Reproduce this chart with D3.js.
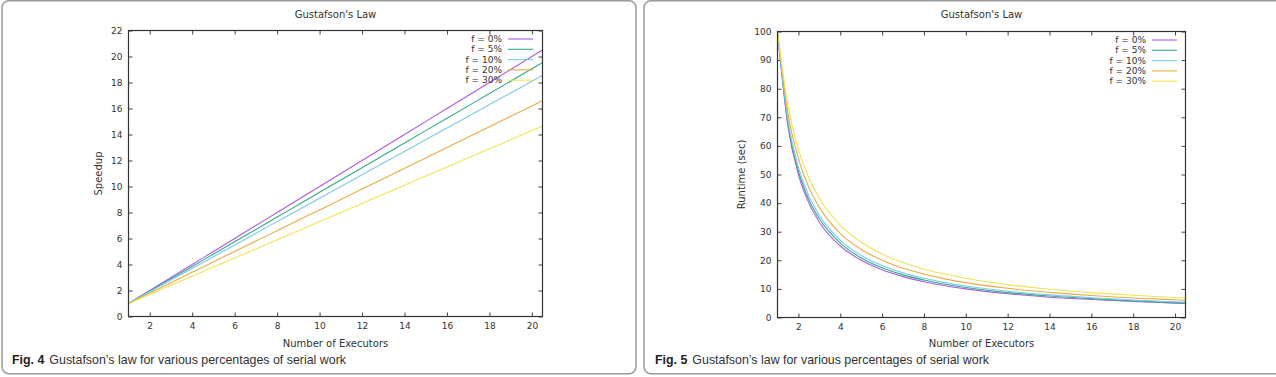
<!DOCTYPE html>
<html>
<head>
<meta charset="utf-8">
<script src="https://cdn.jsdelivr.net/npm/d3@7"></script>
<style>
  body { margin: 0; background: #fff; }
  svg { display: block; }
  .tick text { font-family: "DejaVu Sans", sans-serif; font-size: 9px; fill: #333; }
</style>
</head>
<body>
<svg width="1276" height="377"></svg>
<script>
// number of executors (x) sampled along the curves
var executors = [1, 1.5, 2, 2.5, 3, 4, 5, 6, 7, 8, 9, 10, 12, 14, 16, 18, 20, 20.5];
var seriesLabels = ['f = 0%', 'f = 5%', 'f = 10%', 'f = 20%', 'f = 30%'];
var seriesColors = ['#b05ae6', '#34ad85', '#7fcaf0', '#eeaa45', '#f3e255'];

// Fig. 4 - speedup
var speedupF0  = [1, 1.5, 2, 2.5, 3, 4, 5, 6, 7, 8, 9, 10, 12, 14, 16, 18, 20, 20.5];
var speedupF5  = [1, 1.48, 1.95, 2.43, 2.9, 3.85, 4.8, 5.75, 6.7, 7.65, 8.6, 9.55, 11.45, 13.35, 15.25, 17.15, 19.05, 19.53];
var speedupF10 = [1, 1.45, 1.9, 2.35, 2.8, 3.7, 4.6, 5.5, 6.4, 7.3, 8.2, 9.1, 10.9, 12.7, 14.5, 16.3, 18.1, 18.55];
var speedupF20 = [1, 1.4, 1.8, 2.2, 2.6, 3.4, 4.2, 5.0, 5.8, 6.6, 7.4, 8.2, 9.8, 11.4, 13.0, 14.6, 16.2, 16.6];
var speedupF30 = [1, 1.35, 1.7, 2.05, 2.4, 3.1, 3.8, 4.5, 5.2, 5.9, 6.6, 7.3, 8.7, 10.1, 11.5, 12.9, 14.3, 14.65];

// Fig. 5 - runtime (sec)
var runtimeF0  = [100, 66.7, 50, 40, 33.3, 25, 20, 16.7, 14.3, 12.5, 11.1, 10, 8.3, 7.1, 6.3, 5.6, 5.0, 4.9];
var runtimeF5  = [100, 67.8, 51.3, 41.2, 34.5, 26.0, 20.8, 17.4, 14.9, 13.1, 11.6, 10.5, 8.7, 7.5, 6.6, 5.8, 5.2, 5.1];
var runtimeF10 = [100, 69.0, 52.6, 42.6, 35.7, 27.0, 21.7, 18.2, 15.6, 13.7, 12.2, 11.0, 9.2, 7.9, 6.9, 6.1, 5.5, 5.4];
var runtimeF20 = [100, 71.4, 55.6, 45.5, 38.5, 29.4, 23.8, 20.0, 17.2, 15.2, 13.5, 12.2, 10.2, 8.8, 7.7, 6.8, 6.2, 6.0];
var runtimeF30 = [100, 74.1, 58.8, 48.8, 41.7, 32.3, 26.3, 22.2, 19.2, 16.9, 15.2, 13.7, 11.5, 9.9, 8.7, 7.8, 7.0, 6.8];

var xTicks = [2, 4, 6, 8, 10, 12, 14, 16, 18, 20];
var speedupTicks = [0, 2, 4, 6, 8, 10, 12, 14, 16, 18, 20, 22];
var runtimeTicks = [0, 10, 20, 30, 40, 50, 60, 70, 80, 90, 100];

var svg = d3.select('svg');

function drawPanel(opts) {
    var g = svg.append('g');

    // rounded frame of the figure
    g.append('rect')
        .attr('x', opts.frame[0]).attr('y', opts.frame[1])
        .attr('width', opts.frame[2]).attr('height', opts.frame[3])
        .attr('rx', 7).attr('ry', 7)
        .attr('fill', 'none').attr('stroke', '#9a9a9a').attr('stroke-width', 1.5);

    var m = opts.plot; // left, top, right, bottom
    var x = d3.scaleLinear().domain([1, 20.5]).range([m.left, m.right]);
    var y = d3.scaleLinear().domain(opts.yDomain).range([m.bottom, m.top]);

    g.append('g')
        .attr('transform', 'translate(0,' + m.bottom + ')')
        .call(d3.axisBottom(x).tickValues(xTicks).tickSizeInner(-4).tickSizeOuter(0).tickPadding(6))
        .call(function (a) { a.select('.domain').remove(); });
    g.append('g')
        .attr('transform', 'translate(0,' + m.top + ')')
        .call(d3.axisTop(x).tickValues(xTicks).tickSizeInner(-4).tickSizeOuter(0).tickFormat(''))
        .call(function (a) { a.select('.domain').remove(); });
    g.append('g')
        .attr('transform', 'translate(' + m.left + ',0)')
        .call(d3.axisLeft(y).tickValues(opts.yTicks).tickSizeInner(-4).tickSizeOuter(0).tickPadding(6))
        .call(function (a) { a.select('.domain').remove(); });
    g.append('g')
        .attr('transform', 'translate(' + m.right + ',0)')
        .call(d3.axisRight(y).tickValues(opts.yTicks).tickSizeInner(-4).tickSizeOuter(0).tickFormat(''))
        .call(function (a) { a.select('.domain').remove(); });
    g.selectAll('.tick line').attr('stroke', '#444');

    var line = d3.line()
        .x(function (d) { return x(d[0]); })
        .y(function (d) { return y(d[1]); })
        .curve(d3.curveMonotoneX);

    opts.series.forEach(function (vals, i) {
        g.append('path')
            .datum(executors.map(function (e, j) { return [e, vals[j]]; }))
            .attr('d', line)
            .attr('fill', 'none')
            .attr('stroke', seriesColors[i])
            .attr('stroke-width', 1.1);
    });

    g.append('rect')
        .attr('x', m.left).attr('y', m.top)
        .attr('width', m.right - m.left).attr('height', m.bottom - m.top)
        .attr('fill', 'none').attr('stroke', '#333').attr('stroke-width', 1.2);

    // legend
    var leg = g.append('g');
    seriesLabels.forEach(function (lab, i) {
        var ly = opts.legendY + i * 10.3;
        leg.append('text')
            .attr('x', opts.legendX).attr('y', ly + 3)
            .attr('text-anchor', 'end')
            .style('font-family', '"DejaVu Sans", sans-serif').style('font-size', '9px')
            .attr('fill', '#333')
            .text(lab);
        leg.append('line')
            .attr('x1', opts.legendX + 6).attr('x2', opts.legendX + 31)
            .attr('y1', ly).attr('y2', ly)
            .attr('stroke', seriesColors[i]).attr('stroke-width', 1.1);
    });

    var cx = (m.left + m.right) / 2;
    g.append('text')
        .attr('x', cx).attr('y', 18)
        .attr('text-anchor', 'middle')
        .style('font-family', '"DejaVu Sans", sans-serif').style('font-size', '10px')
        .attr('fill', '#333')
        .text("Gustafson's Law");
    g.append('text')
        .attr('x', cx).attr('y', 347)
        .attr('text-anchor', 'middle')
        .style('font-family', '"DejaVu Sans", sans-serif').style('font-size', '10px')
        .attr('fill', '#333')
        .text('Number of Executors');
    g.append('text')
        .attr('transform', 'translate(' + opts.yLabelX + ',' + ((m.top + m.bottom) / 2) + ') rotate(-90)')
        .attr('text-anchor', 'middle')
        .style('font-family', '"DejaVu Sans", sans-serif').style('font-size', '10px')
        .attr('fill', '#333')
        .text(opts.yLabel);

    var cap = g.append('text')
        .attr('x', opts.captionX).attr('y', 364)
        .style('font-family', '"Liberation Sans", sans-serif').style('font-size', '12.4px')
        .attr('fill', '#333');
    cap.append('tspan').style('font-weight', 'bold').attr('fill', '#222').text(opts.fig);
    cap.append('tspan').attr('dx', 5).text('Gustafson\u2019s law for various percentages of serial work');
}

drawPanel({
    frame: [2, 0.75, 634, 373],
    plot: {left: 128.5, top: 30.5, right: 542.5, bottom: 316.5},
    yDomain: [0, 22],
    yTicks: speedupTicks,
    series: [speedupF0, speedupF5, speedupF10, speedupF20, speedupF30],
    legendX: 502,
    legendY: 39,
    yLabel: 'Speedup',
    yLabelX: 102,
    captionX: 12,
    fig: 'Fig. 4'
});

drawPanel({
    frame: [644, 0.75, 640, 373],
    plot: {left: 777.5, top: 31.5, right: 1185.5, bottom: 317.5},
    yDomain: [0, 100],
    yTicks: runtimeTicks,
    series: [runtimeF0, runtimeF5, runtimeF10, runtimeF20, runtimeF30],
    legendX: 1146,
    legendY: 40,
    yLabel: 'Runtime (sec)',
    yLabelX: 745,
    captionX: 655,
    fig: 'Fig. 5'
});
</script>
</body>
</html>
